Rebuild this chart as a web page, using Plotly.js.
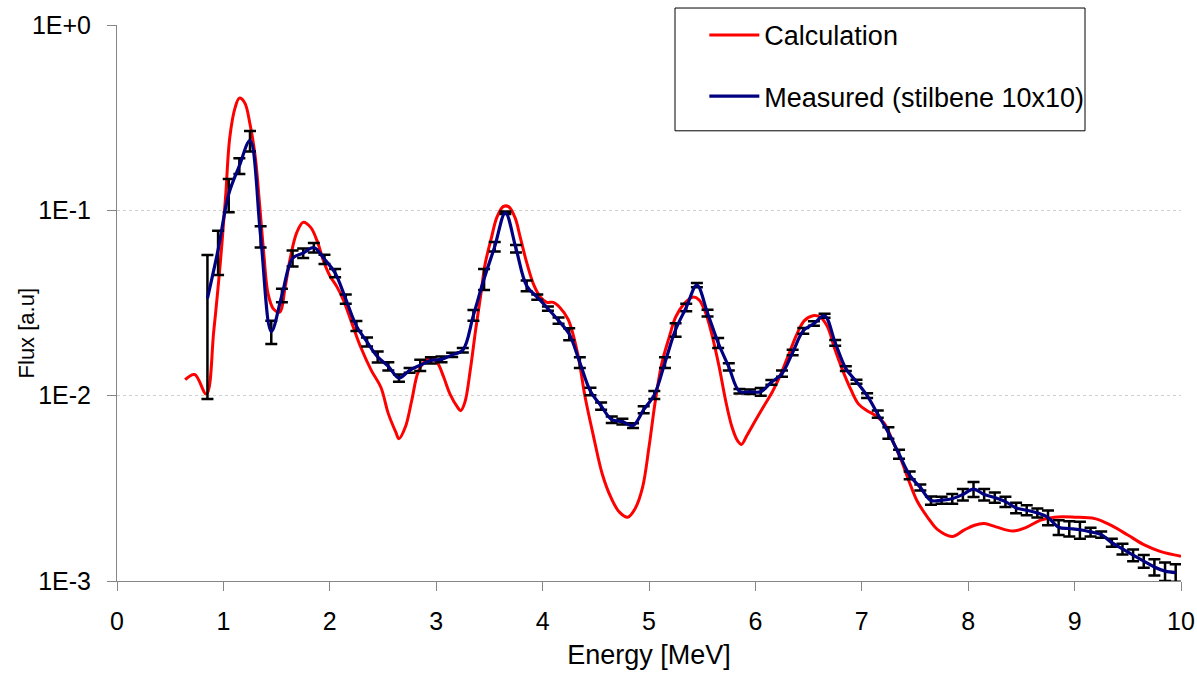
<!DOCTYPE html>
<html>
<head>
<meta charset="utf-8">
<script src="https://cdn.plot.ly/plotly-3.0.1.min.js"></script>
<style>
  html, body { margin: 0; padding: 0; background: #ffffff; }
  #chart { width: 1197px; height: 674px; }
</style>
</head>
<body>
<div id="chart"></div>
<script>
// Calculated neutron flux spectrum (smooth curve)
const calcEnergy = [
  0.64, 0.73, 0.84, 0.91, 0.97, 1.02, 1.06, 1.11, 1.15, 1.20,
  1.25, 1.30, 1.34, 1.38, 1.42, 1.47, 1.53, 1.58, 1.63, 1.69,
  1.75, 1.82, 1.88, 1.94, 2.00, 2.07, 2.13, 2.21, 2.29, 2.39,
  2.48, 2.55, 2.62, 2.65, 2.71, 2.77, 2.83, 2.90, 2.95, 3.01,
  3.07, 3.13, 3.20, 3.23, 3.27, 3.32, 3.37, 3.42, 3.46, 3.52,
  3.57, 3.63, 3.68, 3.74, 3.79, 3.85, 3.92, 3.98, 4.04, 4.10,
  4.16, 4.24, 4.33, 4.40, 4.48, 4.56, 4.64, 4.72, 4.80, 4.87,
  4.94, 5.00, 5.06, 5.12, 5.19, 5.25, 5.33, 5.41, 5.47, 5.53,
  5.59, 5.66, 5.72, 5.78, 5.83, 5.87, 5.92, 6.00, 6.08, 6.16,
  6.24, 6.31, 6.39, 6.46, 6.54, 6.61, 6.68, 6.74, 6.82, 6.90,
  6.97, 7.05, 7.13, 7.21, 7.29, 7.37, 7.44, 7.52, 7.62, 7.71,
  7.85, 7.96, 8.06, 8.15, 8.26, 8.42, 8.54, 8.68, 8.81, 9.00,
  9.19, 9.34, 9.50, 9.66, 9.81, 10.0
];
const calcFlux = [
  0.0122, 0.0130, 0.0102, 0.0225, 0.0514, 0.117, 0.247, 0.358, 0.403, 0.381,
  0.292, 0.193, 0.108, 0.0581, 0.0354, 0.0294, 0.0282, 0.0384, 0.0558, 0.0760,
  0.0861, 0.0809, 0.0686, 0.0535, 0.0444, 0.0384, 0.0326, 0.0244, 0.0183, 0.0137,
  0.0111, 0.0080, 0.00636, 0.00586, 0.00677, 0.00942, 0.0134, 0.0155, 0.0160, 0.0151,
  0.0126, 0.0102, 0.00867, 0.0083, 0.00923, 0.0137, 0.0225, 0.0354, 0.0514, 0.0715,
  0.0916, 0.1047, 0.1047, 0.0916, 0.0715, 0.0524, 0.0392, 0.0340, 0.0319, 0.0319,
  0.0300, 0.0258, 0.0168, 0.0098, 0.00598, 0.00379, 0.00284, 0.00236, 0.00221, 0.00246,
  0.00321, 0.00528, 0.00942, 0.0149, 0.0207, 0.0265, 0.0313, 0.0340, 0.0329, 0.0282,
  0.0215, 0.01425, 0.00942, 0.00677, 0.00574, 0.00546, 0.0061, 0.00735, 0.0088, 0.0105,
  0.0131, 0.0165, 0.0215, 0.0254, 0.0270, 0.0265, 0.0234, 0.0183, 0.0137, 0.0107,
  0.0090, 0.0083, 0.0078, 0.0071, 0.0057, 0.0045, 0.0035, 0.0027, 0.0022, 0.0019,
  0.00174, 0.00188, 0.0020, 0.00204, 0.00196, 0.00186, 0.00194, 0.00213, 0.00221, 0.00221,
  0.00217, 0.0020, 0.00177, 0.00156, 0.00144, 0.00136
];

// Measured spectrum, stilbene 10x10 detector, with uncertainties
const measEnergy = [
  0.85, 0.95, 1.05, 1.15, 1.25, 1.35, 1.45, 1.55, 1.65, 1.75,
  1.85, 1.95, 2.05, 2.15, 2.25, 2.35, 2.45, 2.55, 2.65, 2.75,
  2.85, 2.95, 3.05, 3.15, 3.25, 3.35, 3.45, 3.55, 3.65, 3.75,
  3.85, 3.95, 4.05, 4.15, 4.25, 4.35, 4.45, 4.55, 4.65, 4.75,
  4.85, 4.95, 5.05, 5.15, 5.25, 5.35, 5.45, 5.55, 5.65, 5.75,
  5.85, 5.95, 6.05, 6.15, 6.25, 6.35, 6.45, 6.55, 6.65, 6.75,
  6.85, 6.95, 7.05, 7.15, 7.25, 7.35, 7.45, 7.55, 7.65, 7.75,
  7.85, 7.95, 8.05, 8.15, 8.25, 8.35, 8.45, 8.55, 8.65, 8.75,
  8.85, 8.95, 9.05, 9.15, 9.25, 9.35, 9.45, 9.55, 9.65, 9.75,
  9.85, 9.95
];
const measFlux = [
  0.0335, 0.0612, 0.1225, 0.174, 0.238, 0.0725, 0.0222, 0.0348, 0.0552, 0.0588,
  0.0630, 0.0545, 0.0459, 0.0332, 0.0238, 0.0195, 0.0162, 0.0144, 0.01245, 0.0137,
  0.0146, 0.0155, 0.0157, 0.0166, 0.0176, 0.0272, 0.0427, 0.0637, 0.0970, 0.0622,
  0.0392, 0.0340, 0.0295, 0.0254, 0.0215, 0.0151, 0.01055, 0.0088, 0.00742, 0.00725,
  0.0069, 0.0084, 0.0101, 0.0151, 0.0227, 0.0299, 0.0395, 0.0279, 0.0193, 0.0143,
  0.01056, 0.0105, 0.0105, 0.0118, 0.01315, 0.0171, 0.0224, 0.0245, 0.0270, 0.0193,
  0.0140, 0.0119, 0.0100, 0.00796, 0.0063, 0.00484, 0.00372, 0.0032, 0.00272, 0.00273,
  0.00278, 0.00293, 0.00313, 0.00293, 0.00282, 0.00268, 0.00248, 0.00241, 0.00233, 0.0022,
  0.00195, 0.00192, 0.00189, 0.00184, 0.00178, 0.00161, 0.00149, 0.00138, 0.00128, 0.00119,
  0.00113, 0.00111
];
const measError = [
  0.0239, 0.0164, 0.025, 0.017, 0.030, 0.0095, 0.0032, 0.0029, 0.0055, 0.0035,
  0.0037, 0.0031, 0.0024, 0.0019, 0.0015, 0.0011, 0.0011, 0.00075, 0.00055, 0.0004,
  0.0010, 0.0006, 0.00055, 0.00045, 0.0005, 0.0018, 0.0055, 0.0037, 0.0016, 0.0029,
  0.0026, 0.0011, 0.0008, 0.0010, 0.0016, 0.0010, 0.0005, 0.0004, 0.0003, 0.00026,
  0.0002, 0.00037, 0.0005, 0.0010, 0.0019, 0.0014, 0.0011, 0.0012, 0.0012, 0.00065,
  0.0003, 0.0003, 0.0005, 0.00035, 0.0005, 0.0006, 0.0008, 0.0007, 0.0007, 0.0007,
  0.0004, 0.0003, 0.0003, 0.00036, 0.00045, 0.00027, 0.00018, 0.00012, 0.00014, 0.00012,
  0.00017, 0.00021, 0.00029, 0.00021, 0.00018, 0.00017, 0.00016, 0.00015, 0.00013, 0.0002,
  0.00018, 0.00018, 0.0002, 0.0001, 0.00007, 0.00008, 0.0001, 0.0001, 0.0001, 0.00012,
  0.00013, 0.00012
];

const yTickVals = [1, 0.1, 0.01, 0.001];
const yTickText = ['1E+0', '1E-1', '1E-2', '1E-3'];
const xTickVals = [0, 1, 2, 3, 4, 5, 6, 7, 8, 9, 10];

const FONT = 'Liberation Sans, Arial, sans-serif';
const AXIS_GRAY = '#868686';

const traces = [
  {
    x: calcEnergy, y: calcFlux,
    type: 'scatter', mode: 'lines',
    name: 'Calculation', legendgroup: 'calc',
    line: { color: '#ff0000', width: 3, shape: 'spline', smoothing: 1 },
    hoverinfo: 'x+y'
  },
  {
    // uncertainty bars, drawn beneath the measured line
    x: measEnergy, y: measFlux,
    type: 'scatter', mode: 'markers',
    showlegend: false, hoverinfo: 'skip',
    marker: { size: 1, color: 'rgba(0,0,0,0)' },
    error_y: { type: 'data', array: measError, visible: true,
               color: '#000000', thickness: 2.5, width: 6 }
  },
  {
    x: measEnergy, y: measFlux,
    type: 'scatter', mode: 'lines',
    name: 'Measured (stilbene 10x10)', legendgroup: 'meas',
    line: { color: '#000080', width: 3.2, shape: 'spline', smoothing: 1 },
    hoverinfo: 'x+y'
  }
];

const layout = {
  width: 1197, height: 674,
  margin: { l: 117, r: 16, t: 24, b: 93 },
  paper_bgcolor: '#ffffff', plot_bgcolor: '#ffffff',
  font: { family: FONT, size: 25, color: '#000000' },
  showlegend: true,
  legend: {
    x: 0.552, y: 1.0235, xanchor: 'left', yanchor: 'top',
    bgcolor: 'rgba(0,0,0,0)', borderwidth: 0,
    font: { family: FONT, size: 27, color: '#000000' },
    tracegroupgap: 23, itemwidth: 50
  },
  xaxis: {
    range: [0, 10],
    tickvals: xTickVals,
    ticks: 'outside', ticklen: 9, tickwidth: 1, tickcolor: AXIS_GRAY,
    ticklabelstandoff: 9,
    showline: true, linecolor: AXIS_GRAY, linewidth: 1,
    showgrid: false, zeroline: false,
    tickfont: { family: FONT, size: 25, color: '#000000' },
    title: { text: 'Energy [MeV]', standoff: 11,
             font: { family: FONT, size: 27, color: '#000000' } }
  },
  yaxis: {
    type: 'log',
    range: [-3, 0],
    tickvals: yTickVals, ticktext: yTickText,
    ticks: 'outside', ticklen: 9, tickwidth: 1, tickcolor: AXIS_GRAY,
    ticklabelstandoff: 11,
    showline: true, linecolor: AXIS_GRAY, linewidth: 1,
    showgrid: true, gridcolor: '#d0d0d0', gridwidth: 1, griddash: 'dot',
    zeroline: false,
    tickfont: { family: FONT, size: 25, color: '#000000' }
  },
  annotations: [
    {
      // y-axis title
      text: 'Flux [a.u]', textangle: -90,
      xref: 'paper', yref: 'paper',
      x: (26 - 117) / 1064, y: (581 - 333) / 557,
      xanchor: 'center', yanchor: 'middle', showarrow: false,
      font: { family: FONT, size: 22, color: '#000000' }
    }
  ],
  shapes: [
    {
      // frame around the legend
      type: 'rect', xref: 'paper', yref: 'paper',
      x0: (675 - 117) / 1064, x1: (1085 - 117) / 1064,
      y0: (581 - 130) / 557, y1: (581 - 7) / 557,
      line: { color: '#000000', width: 1 },
      fillcolor: '#ffffff', layer: 'above'
    }
  ]
};

Plotly.newPlot('chart', traces, layout, { displayModeBar: false, staticPlot: true });
</script>
</body>
</html>
